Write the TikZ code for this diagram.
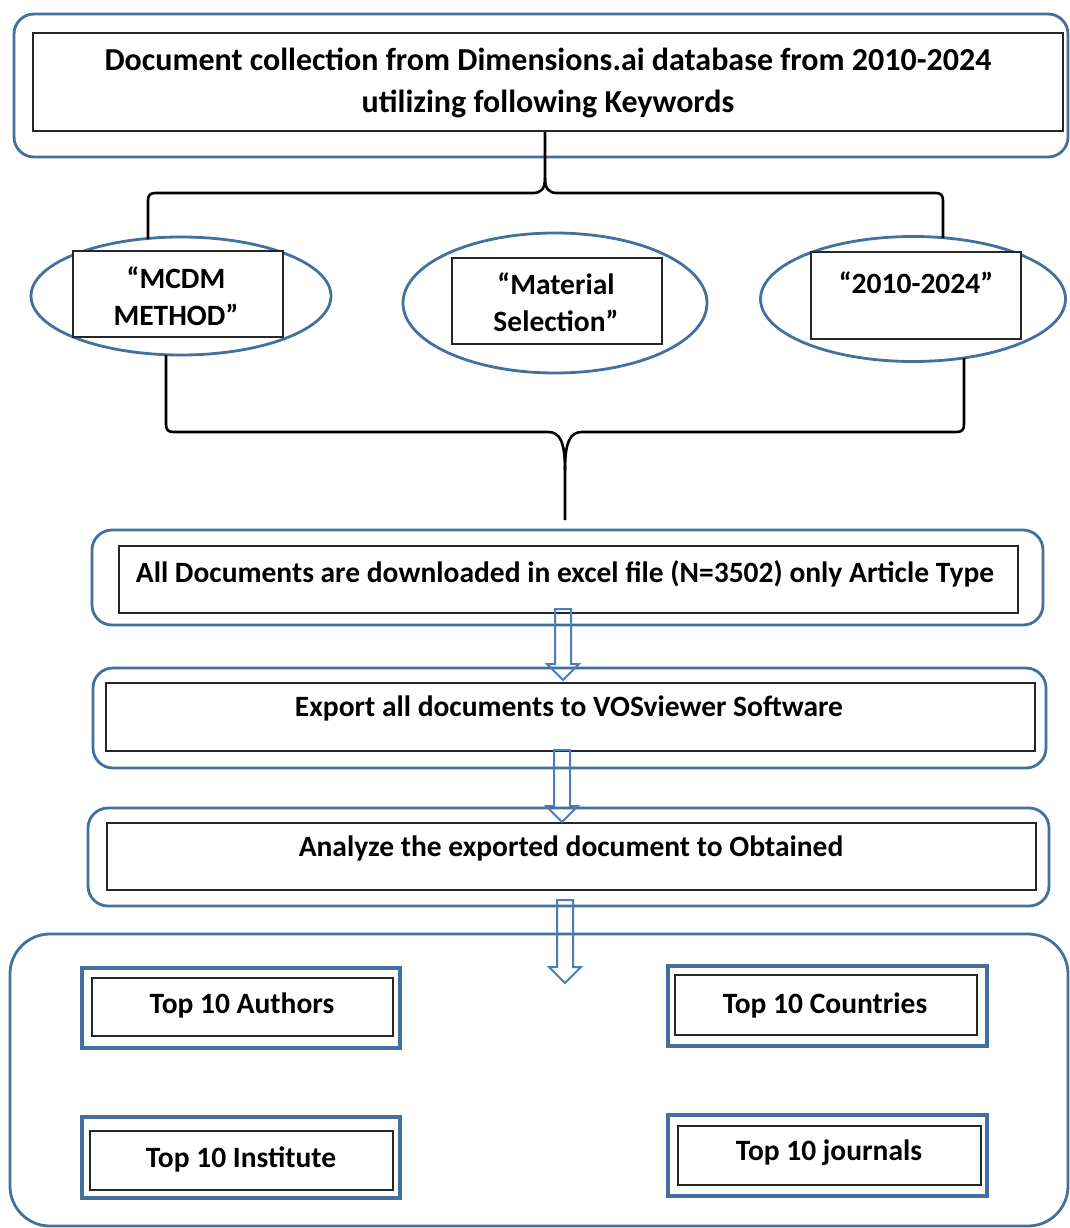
\documentclass[tikz,border=0pt]{standalone}
\usepackage{fontspec}
\setmainfont{Carlito}
\usetikzlibrary{calc,shapes.geometric}
\definecolor{ob}{HTML}{41719C}
\definecolor{ab}{HTML}{4A7EBB}
\begin{document}
\begin{tikzpicture}[x=1pt,y=-1pt,
  outerbox/.style={draw=ob, line width=2.8pt, rounded corners=20pt, inner sep=0pt, minimum width=#1},
  innerbox/.style={draw=black!85, line width=1.8pt, inner sep=0pt, fill=white},
  topouter/.style={draw=ob, line width=3.2pt, inner sep=0pt},
  ell/.style={draw=ob, line width=2.8pt, ellipse, inner sep=0pt},
  lbl/.style={font=\bfseries\fontsize{29.5}{37}\selectfont, align=center, inner sep=0pt},
  toplbl/.style={font=\bfseries\fontsize{32}{42}\selectfont, align=center, inner sep=0pt},
  bracel/.style={draw=black, line width=2.6pt},
  harrow/.style={draw=ab, line width=2pt, line join=miter}]
\useasboundingbox (0,0) rectangle (1069,1228);
\fill[white] (0,0) rectangle (1069,1228);

% top block
\node[outerbox=1054pt, minimum height=143pt] (o1) at (541,85.5) {};
\node[innerbox, minimum width=1030pt, minimum height=98pt] (i1) at (548,82) {};
\node[toplbl] (t1) at (548,83) {Document collection from Dimensions.ai database from 2010-2024\\utilizing following Keywords};

% ellipses
\node[ell, minimum width=300pt, minimum height=118pt] (e1) at (181,296) {};
\node[innerbox, minimum width=210pt, minimum height=86pt] (r1) at (178,294) {};
\node[lbl] (t2) at (176,296) {“MCDM\\METHOD”};
\node[ell, minimum width=304pt, minimum height=140pt] (e2) at (555,303) {};
\node[innerbox, minimum width=210pt, minimum height=86pt] (r2) at (557,301) {};
\node[lbl] (t3) at (556,302.5) {“Material\\Selection”};
\node[ell, minimum width=305pt, minimum height=125pt] (e3) at (913,299) {};
\node[innerbox, minimum width=210pt, minimum height=87pt] (r3) at (916,295.5) {};
\node[lbl] (t4) at (916,283) {“2010-2024”};

% brace coordinates
\coordinate (b1l) at (148,239);
\coordinate (b1r) at (943,238);
\coordinate (b2l) at (166,355);
\coordinate (b2r) at (964,358);
\coordinate (b2t) at (565,520);

\draw[bracel] (i1.south -| 545,0) -- (545,178) .. controls (545,189) and (541,193) .. (533,193)
  -- (156,193) .. controls (150,193) and (148,195) .. (148,201) -- (b1l);
\draw[bracel] (545,178) .. controls (545,189) and (549,193) .. (557,193)
  -- (935,193) .. controls (941,193) and (943,195) .. (943,201) -- (b1r);

\draw[bracel] (b2l) -- (166,424) .. controls (166,430) and (168,432) .. (174,432)
  -- (548,432) .. controls (560,432) and (565,442) .. (565,470) -- (b2t);
\draw[bracel] (b2r) -- (964,424) .. controls (964,430) and (962,432) .. (956,432)
  -- (582,432) .. controls (570,432) and (565,442) .. (565,470);

% process boxes
\node[outerbox=951pt, minimum height=95pt] (o2) at (567.5,577.5) {};
\node[innerbox, minimum width=899pt, minimum height=67pt] (i2) at (568.5,579.5) {};
\node[lbl] (t5) at (565,574) {All Documents are downloaded in excel file (N=3502) only Article Type};

\node[outerbox=953pt, minimum height=100pt] (o3) at (569.5,718) {};
\node[innerbox, minimum width=929pt, minimum height=68pt] (i3) at (570.5,717) {};
\node[lbl] (t6) at (569,708) {Export all documents to VOSviewer Software};

\node[outerbox=961pt, minimum height=98pt] (o4) at (568.5,857) {};
\node[innerbox, minimum width=929pt, minimum height=67pt] (i4) at (571.5,856.5) {};
\node[lbl] (t7) at (571,848) {Analyze the exported document to Obtained};

% result container
\node[draw=ob, line width=2.8pt, rounded corners=40pt, inner sep=0pt, minimum width=1058pt, minimum height=292pt] (o5) at (539,1080) {};

\node[topouter, minimum width=318pt, minimum height=80pt] (ao) at (241,1008) {};
\node[innerbox, minimum width=301pt, minimum height=58pt] (ai) at (242.5,1007) {};
\node[lbl] (ta) at (242,1005) {Top 10 Authors};

\node[topouter, minimum width=319pt, minimum height=80pt] (co) at (827.5,1006) {};
\node[innerbox, minimum width=302pt, minimum height=60pt] (ci) at (826,1005) {};
\node[lbl] (tc) at (825,1005) {Top 10 Countries};

\node[topouter, minimum width=318pt, minimum height=81pt] (io) at (241,1157.5) {};
\node[innerbox, minimum width=303pt, minimum height=59pt] (ii) at (241.5,1160.5) {};
\node[lbl] (ti) at (241,1159) {Top 10 Institute};

\node[topouter, minimum width=319pt, minimum height=81pt] (jo) at (827.5,1155.5) {};
\node[innerbox, minimum width=303pt, minimum height=59pt] (ji) at (829.5,1155.5) {};
\node[lbl] (tj) at (829,1153) {Top 10 journals};

% hollow arrows
\foreach \c/\ya/\yb in {563/609/680, 562/750/822, 565/900/983} {
  \draw[harrow] (\c-8,\ya) -- (\c+8,\ya) -- (\c+8,\yb-16) -- (\c+16,\yb-16) -- (\c,\yb)
    -- (\c-16,\yb-16) -- (\c-8,\yb-16) -- cycle;
}
\end{tikzpicture}
\end{document}
